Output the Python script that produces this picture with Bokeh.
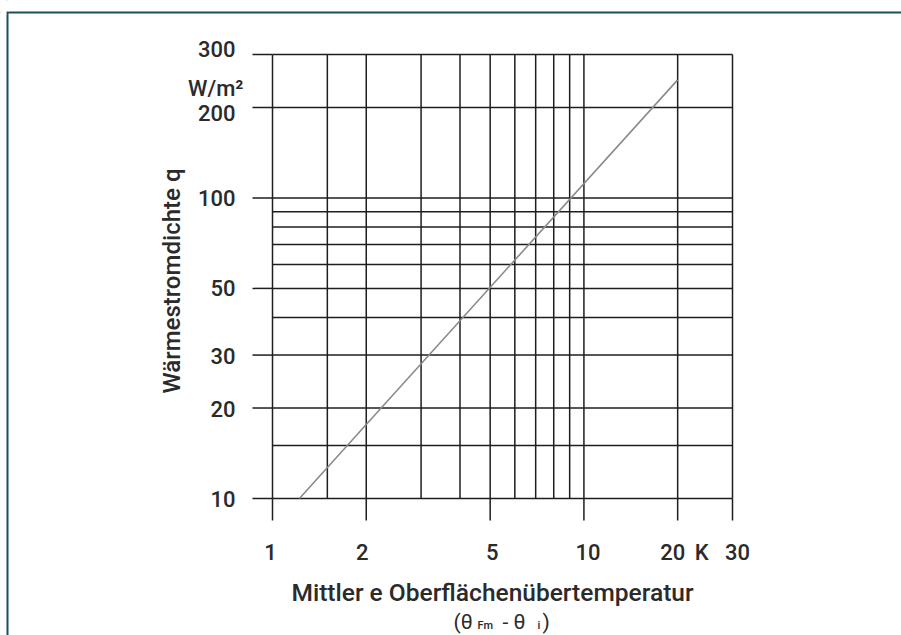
import math
from bokeh.plotting import figure
from bokeh.models import Range1d, Span, BoxAnnotation
from bokeh.core.properties import value
from bokeh.embed import file_html
from bokeh.resources import INLINE

# ---- data ----
x_grid = [1, 1.5, 2, 3, 4, 5, 6, 7, 8, 9, 10, 20, 30]
y_grid = [10, 15, 20, 30, 40, 50, 60, 70, 80, 90, 100, 200, 300]
x_ticks = [1, 2, 5, 10, 20, 30]
x_tick_labels = ["1", "2", "5", "10", "20", "30"]
y_ticks = [10, 20, 30, 50, 100, 200, 300]
y_tick_labels = ["10", "20", "30", "50", "100", "200", "300"]
line_x = [1.22, 20]
line_y = [10, 247]
x_lo, x_hi = 1, 30
y_lo, y_hi = 10, 300

# ---- layout (pixels) ----
W, H = 901, 635
BOX_L, BOX_R, BOX_T, BOX_B = 272, 732, 54, 498   # chart box inside the canvas
x_label_nudge = [-2, -4, 2, 4, -5, 5]             # small horizontal label nudges
y_label_nudge = [0, 1, 1, 0, 0, 6, -6]            # small vertical label nudges

FONT = "Roboto Medium, Roboto"
BOLD = "normal"
TXT = "#2b2b2b"
INK = "#1e1e1e"
TEAL = "#1d4f5f"

kx = (BOX_R - BOX_L) / (math.log10(x_hi) - math.log10(x_lo))
ky = (BOX_B - BOX_T) / (math.log10(y_hi) - math.log10(y_lo))
x_range = Range1d(10 ** (math.log10(x_lo) - BOX_L / kx),
                  10 ** (math.log10(x_hi) + (W - BOX_R) / kx))
y_range = Range1d(10 ** (math.log10(y_lo) - (H - BOX_B) / ky),
                  10 ** (math.log10(y_hi) + BOX_T / ky))

p = figure(width=W, height=H, x_axis_type="log", y_axis_type="log",
           x_range=x_range, y_range=y_range,
           x_axis_location=None, y_axis_location=None,
           output_backend="svg", toolbar_location=None,
           min_border_left=0, min_border_right=0,
           min_border_top=0, min_border_bottom=0)
p.grid.visible = False
p.outline_line_color = None
p.background_fill_color = "white"
p.border_fill_color = "white"

LW = 1.5
# grid lines of the chart box
p.segment(x0=x_grid, y0=[y_lo] * len(x_grid), x1=x_grid, y1=[y_hi] * len(x_grid),
          line_color=INK, line_width=LW)
p.segment(x0=[x_lo] * len(y_grid), y0=y_grid, x1=[x_hi] * len(y_grid), y1=y_grid,
          line_color=INK, line_width=LW)

# outward tick marks
p.ray(x=x_ticks, y=[y_lo] * len(x_ticks), length=22, length_units="screen",
      angle=-math.pi / 2, line_color=INK, line_width=LW)
p.ray(x=[x_lo] * len(y_ticks), y=y_ticks, length=20, length_units="screen",
      angle=math.pi, line_color=INK, line_width=LW)

# characteristic line
p.line(line_x, line_y, line_color="#8a8a8a", line_width=1.6)

def txt(x, y, t, dx=0, dy=0, size="22px", style=BOLD, align="left",
        baseline="alphabetic", angle=0.0, font=FONT):
    p.text(x=x, y=y, text=t, x_offset=dx, y_offset=dy, angle=angle,
           text_font=value(font), text_font_size=value(size),
           text_font_style=style, text_color=TXT,
           text_align=align, text_baseline=baseline)

# tick labels
txt(x_ticks, [y_lo] * len(x_ticks), x_tick_labels, dx=x_label_nudge, dy=53.5,
    align="center")
txt([x_lo] * len(y_ticks), y_ticks, y_tick_labels, dx=-37,
    dy=y_label_nudge, align="right", baseline="middle")

# unit labels
txt([x_lo], [y_hi], ["W/m²"], dx=-29, dy=33.5, align="right")
txt([20], [y_lo], ["K"], dx=24, dy=53.5, align="center")

# axis titles
txt([x_lo], [y_lo], ["Wärmestromdichte  q"], dx=-101, dy=-220.5,
    size="24px", align="center", angle=math.pi / 2)
txt([x_lo], [y_lo], ["Mittler e Oberflächenübertemperatur"], dx=220, dy=93.5,
    size="24.5px", align="center")
txt([x_lo], [y_lo], ["(θ"], dx=181, dy=123, size="21px", style="normal", font="Roboto")
txt([x_lo], [y_lo], ["Fm"], dx=205, dy=127, size="11px")
txt([x_lo], [y_lo], ["- θ"], dx=230, dy=123, size="21px", style="normal", font="Roboto")
txt([x_lo], [y_lo], ["i"], dx=265, dy=127, size="11px")
txt([x_lo], [y_lo], [")"], dx=270, dy=123, size="21px", style="normal", font="Roboto")

# page frame lines (teal, top and left)
p.add_layout(Span(location=12, dimension="width", location_units="canvas",
                  line_color=TEAL, line_width=2, line_alpha=1))
p.add_layout(Span(location=7, dimension="height", location_units="canvas",
                  line_color=TEAL, line_width=2, line_alpha=1))
# blank the corner stubs outside the frame corner
for r, b in ((6, 14), (9, 11)):
    p.add_layout(BoxAnnotation(left=-2, right=r, top=-2, bottom=b,
                               left_units="canvas", right_units="canvas",
                               top_units="canvas", bottom_units="canvas",
                               fill_color="white", fill_alpha=1,
                               line_alpha=0))

open("out.html", "w").write(file_html(p, INLINE))
